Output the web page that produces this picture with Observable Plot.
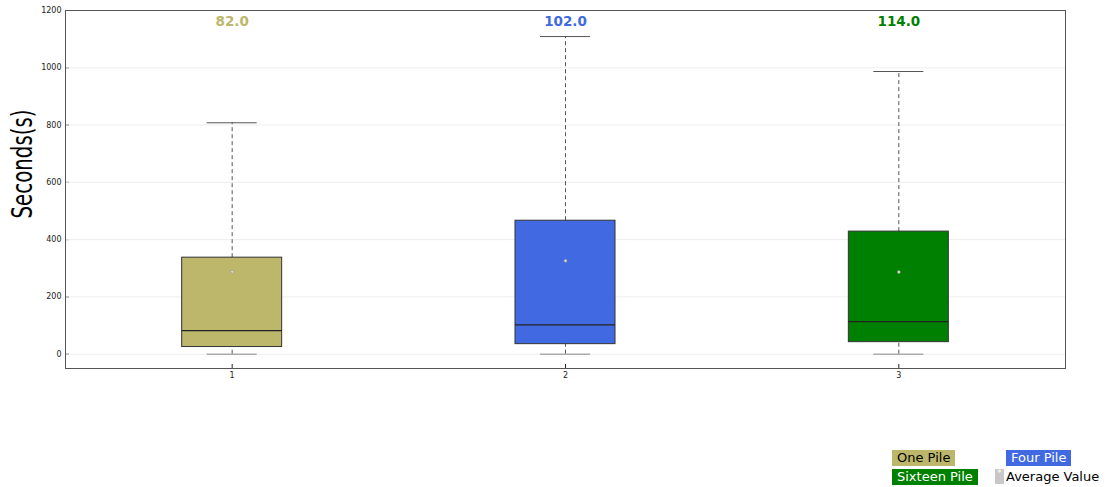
<!DOCTYPE html>
<html><head><meta charset="utf-8">
<script src="https://cdn.jsdelivr.net/npm/d3@7"></script>
<script src="https://cdn.jsdelivr.net/npm/@observablehq/plot@0.6"></script>
<style>
body{margin:0;background:#fff;font-family:"DejaVu Sans",sans-serif;}
#wrap{position:relative;width:1113px;height:487px;}
#ylab{position:absolute;left:23px;top:164px;transform:translate(-50%,-50%) rotate(-90deg) scale(1,1.25);font-family:"DejaVu Sans Condensed","Liberation Sans Narrow",sans-serif;font-stretch:condensed;font-size:22px;color:#000;white-space:nowrap;}
.leg{position:absolute;font-size:13px;line-height:16px;padding:0 5px;color:#000;}
</style></head>
<body><div id="wrap"><div id="chart"></div><div id="ylab">Seconds(s)</div><div id="legend"></div></div>
<script>
const groups = [1, 2, 3];
const names = ["One Pile", "Four Pile", "Sixteen Pile"];
const colors = ["#BDB76B", "#4169E1", "#008000"];
const mins = [0, 0, 0];
const q1s = [25, 35, 42];
const medians = [82, 102, 114];
const q3s = [337, 466, 428];
const maxs = [808, 1109, 987];
const means = [288, 326, 287];
const yTicks = [0, 200, 400, 600, 800, 1000, 1200];

const data = groups.map((g, i) => ({g, name: names[i], color: colors[i], min: mins[i], q1: q1s[i], med: medians[i], q3: q3s[i], max: maxs[i], mean: means[i], label: medians[i].toFixed(1)}));
const hw = 0.15, cw = 0.075;

const chart = Plot.plot({
  width: 1113, height: 400,
  marginLeft: 65, marginRight: 48, marginTop: 10, marginBottom: 32,
  style: {fontFamily: "DejaVu Sans, sans-serif", fontSize: "8px", color: "#222"},
  x: {domain: [0.5, 3.5], ticks: groups, tickFormat: d => String(d), label: null, tickSize: -4, tickPadding: 8},
  y: {domain: [-50, 1200], ticks: yTicks, tickFormat: d => String(d), label: null, tickSize: -4, tickPadding: 8},
  color: {type: "identity"},
  marks: [
    Plot.ruleY(yTicks, {stroke: "#eeeeee", strokeWidth: 1}),
    Plot.ruleX(data, {x: "g", y1: "q3", y2: "max", stroke: "#555", strokeDasharray: "4,3", strokeWidth: 1}),
    Plot.ruleX(data, {x: "g", y1: "min", y2: "q1", stroke: "#555", strokeDasharray: "4,3", strokeWidth: 1}),
    Plot.ruleY(data, {y: "max", x1: d => d.g - cw, x2: d => d.g + cw, stroke: "#555"}),
    Plot.ruleY(data, {y: "min", x1: d => d.g - cw, x2: d => d.g + cw, stroke: "#888"}),
    Plot.rect(data, {x1: d => d.g - hw, x2: d => d.g + hw, y1: "q1", y2: "q3", fill: "color", stroke: "#333", strokeWidth: 1}),
    Plot.ruleY(data, {y: "med", x1: d => d.g - hw, x2: d => d.g + hw, stroke: "#222", strokeWidth: 1.2}),
    Plot.dot(data, {x: "g", y: "mean", r: 1.5, fill: "#ddd", stroke: "#888", strokeWidth: 0.5}),
    Plot.text(data, {x: "g", text: "label", fill: "color", frameAnchor: "top", dy: 6, fontSize: 13.5, fontWeight: "bold"}),
    Plot.frame({stroke: "#555", strokeWidth: 1})
  ]
});
document.getElementById("chart").append(chart);

const legendItems = [
  {text: names[0], bg: colors[0], fg: "#000", left: 892, top: 450},
  {text: names[1], bg: colors[1], fg: "#fff", left: 1006, top: 450},
  {text: names[2], bg: colors[2], fg: "#fff", left: 892, top: 469}
];
const leg = document.getElementById("legend");
legendItems.forEach(it => {
  const d = document.createElement("div");
  d.className = "leg"; d.textContent = it.text;
  d.style.background = it.bg; d.style.color = it.fg;
  d.style.left = it.left + "px"; d.style.top = it.top + "px";
  leg.append(d);
});
const avg = document.createElement("div");
avg.className = "leg"; avg.style.left = "995px"; avg.style.top = "469px"; avg.style.padding = "0";
avg.innerHTML = '<span style="display:inline-block;width:9px;height:15px;background:#c8c8c8;vertical-align:top;margin-right:2px;color:#fff;font-size:9px;line-height:9px;text-align:center">*</span>Average Value';
leg.append(avg);
</script></body></html>
